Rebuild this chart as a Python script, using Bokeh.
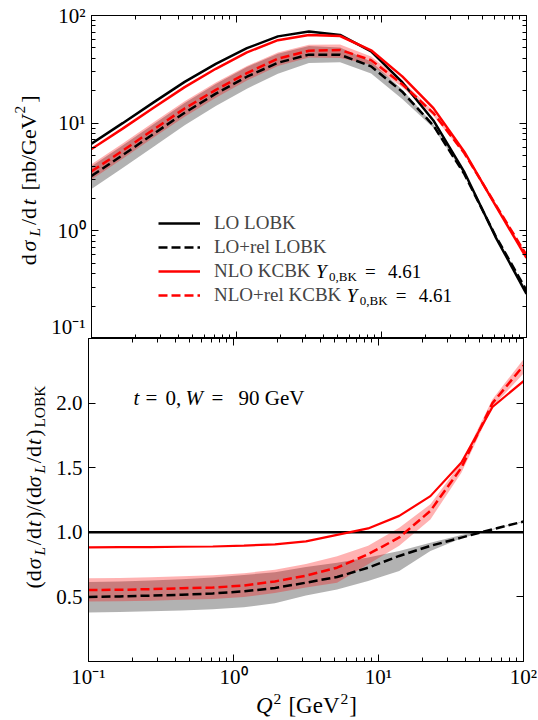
import math
from bokeh.plotting import figure
from bokeh.models import (FixedTicker, LogAxis, LinearAxis, Legend, LegendItem, Label,
                          Range1d, ColumnDataSource, CustomJSTickFormatter)
from bokeh.layouts import column, row
from bokeh.embed import file_html
from bokeh.resources import INLINE

# ---------------- data ----------------
Q2 = [0.1, 0.164, 0.268, 0.439, 0.72, 1.18, 1.93, 3.16, 5.18, 8.48, 13.9, 22.8, 37.3, 61.1, 100.0]

# top panel: dsigma_L/dt [nb/GeV^2]
lo_lobk = [6.45, 10.0, 15.6, 24.2, 35.6, 49.7, 64.0, 71.0, 66.0, 46.4, 24.0, 10.6, 3.5, 0.88, 0.26]
lorel_lobk = [3.23, 5.04, 7.96, 12.5, 18.8, 27.0, 36.4, 43.3, 43.2, 33.7, 19.6, 9.5, 3.36, 0.90, 0.28]
lorel_low = [2.45, 3.83, 6.05, 9.56, 14.4, 20.9, 28.8, 36.2, 36.8, 28.9, 16.8, 9.07, 3.34, 0.895, 0.279]
lorel_high = [3.97, 6.2, 9.78, 15.4, 23.1, 33.3, 44.2, 52.0, 50.5, 37.3, 20.5, 9.75, 3.43, 0.902, 0.283]
nlo_kcbk = [5.75, 8.9, 13.9, 21.6, 32.0, 45.5, 59.0, 66.0, 64.5, 47.5, 27.2, 13.8, 5.4, 1.72, 0.56]
nlorel_kcbk = [3.57, 5.55, 8.74, 13.7, 20.4, 29.2, 39.7, 47.1, 47.9, 38.5, 23.0, 12.4, 5.25, 1.76, 0.595]
nlorel_low = [3.0, 4.67, 7.35, 11.5, 17.2, 24.9, 33.9, 40.7, 40.3, 34.9, 21.5, 11.7, 5.11, 1.73, 0.58]
nlorel_high = [4.16, 6.47, 10.2, 16.0, 23.8, 33.9, 45.4, 53.6, 53.8, 41.5, 24.9, 12.9, 5.39, 1.79, 0.61]

# bottom panel: ratio to LO LOBK
r_lo = [1.0, 1.0, 1.0, 1.0, 1.0, 1.0, 1.0, 1.0, 1.0, 1.0, 1.0, 1.0, 1.0, 1.0, 1.0]
r_lorel = [0.50, 0.504, 0.51, 0.517, 0.527, 0.543, 0.569, 0.61, 0.654, 0.726, 0.817, 0.895, 0.959, 1.023, 1.083]
r_lorel_low = [0.38, 0.383, 0.388, 0.395, 0.405, 0.42, 0.45, 0.51, 0.558, 0.623, 0.70, 0.856, 0.953, 1.02, 1.08]
r_lorel_high = [0.615, 0.62, 0.627, 0.637, 0.65, 0.67, 0.69, 0.732, 0.765, 0.804, 0.856, 0.92, 0.98, 1.025, 1.085]
r_nlo = [0.884, 0.885, 0.886, 0.888, 0.89, 0.897, 0.907, 0.93, 0.98, 1.03, 1.127, 1.28, 1.54, 1.97, 2.17]
r_nlorel = [0.553, 0.555, 0.56, 0.567, 0.572, 0.588, 0.62, 0.664, 0.726, 0.83, 0.96, 1.166, 1.50, 2.0, 2.29]
r_nlorel_low = [0.465, 0.467, 0.471, 0.477, 0.483, 0.50, 0.53, 0.573, 0.61, 0.752, 0.895, 1.10, 1.46, 1.97, 2.23]
r_nlorel_high = [0.645, 0.647, 0.652, 0.66, 0.668, 0.683, 0.71, 0.755, 0.815, 0.895, 1.036, 1.217, 1.54, 2.03, 2.34]

x_major = [0.1, 1, 10, 100]
x_minor = [0.2, 0.3, 0.4, 0.5, 0.6, 0.7, 0.8, 0.9, 2, 3, 4, 5, 6, 7, 8, 9,
           20, 30, 40, 50, 60, 70, 80, 90]
y_top_major = [0.1, 1, 10, 100]
y_top_minor = x_minor
y_bot_major = [0.5, 1.0, 1.5, 2.0]

legend_labels = ["LO LOBK", "LO+rel LOBK", "NLO KCBK", "NLO+rel KCBK"]

# ---------------- geometry / styling ----------------
FONT = "Liberation Serif"
TICK_FS = 21
LEG_FS = 19
LAB_FS = 22
LW = 2.5
DASH = "9 4"

SIDE_W = 48                  # narrow figures holding the rotated y labels
FRAME_L, FRAME_R = 88, 523   # canvas x of the frames
TOP_T, MID, BOT_B = 15, 338, 661
TOTAL_W, TOTAL_H = 538, 720
XTICK_PANEL = 28             # room below the lower frame for tick labels
STRIP_Y0 = BOT_B + XTICK_PANEL

FW, FH = FRAME_R - FRAME_L, MID - TOP_T

log_fmt = CustomJSTickFormatter(code="""
const e = Math.round(Math.log10(tick));
const m = {"-1": "10\u207b\u00b9", "0": "10\u2070", "1": "10\u00b9", "2": "10\u00b2"};
return m[String(e)] || "";
""")
lin_fmt = CustomJSTickFormatter(code="return tick.toFixed(1);")
blank_fmt = CustomJSTickFormatter(code="return '';")


def style_axis(ax, labels=True):
    ax.major_tick_in = 7
    ax.major_tick_out = 0
    ax.minor_tick_in = 4
    ax.minor_tick_out = 0
    ax.major_tick_line_color = "black"
    ax.minor_tick_line_color = "black"
    ax.major_tick_line_width = 1
    ax.minor_tick_line_width = 1
    ax.axis_line_color = "black"
    ax.axis_line_width = 1
    ax.major_label_text_font = FONT
    ax.major_label_text_color = "black"
    ax.major_label_text_font_size = f"{TICK_FS}px"
    if not labels:
        ax.formatter = blank_fmt
        ax.major_label_standoff = 0


def main_fig(y_type, y_range, b_top, b_bottom):
    p = figure(frame_width=FW, frame_height=FH, x_axis_type="log", y_axis_type=y_type,
               x_range=Range1d(0.1, 100), y_range=y_range,
               output_backend="svg", toolbar_location=None,
               min_border_left=FRAME_L - SIDE_W, min_border_right=TOTAL_W - FRAME_R,
               min_border_top=b_top, min_border_bottom=b_bottom)
    p.xgrid.visible = False
    p.ygrid.visible = False
    p.outline_line_color = "black"
    p.outline_line_width = 1
    p.background_fill_color = "white"
    p.border_fill_color = "white"
    return p


def text_fig(x0, x1, y0, y1):
    """Axis-free figure whose data coordinates equal canvas pixels."""
    p = figure(width=x1 - x0, height=y1 - y0, x_range=Range1d(x0, x1), y_range=Range1d(y1, y0),
               output_backend="svg", toolbar_location=None, min_border=0,
               x_axis_location=None, y_axis_location=None)
    p.outline_line_color = None
    p.grid.visible = False
    p.background_fill_color = "white"
    p.border_fill_color = "white"
    return p


# ---------------- top panel ----------------
top = main_fig("log", Range1d(0.1, 100), TOP_T, 0)
src_t = ColumnDataSource(dict(x=Q2, lo=lo_lobk, lorel=lorel_lobk, lorel_lo=lorel_low, lorel_hi=lorel_high,
                              nlo=nlo_kcbk, nlorel=nlorel_kcbk, nlorel_lo=nlorel_low, nlorel_hi=nlorel_high))
top.varea(x="x", y1="lorel_lo", y2="lorel_hi", source=src_t, fill_color="black", fill_alpha=0.3)
top.varea(x="x", y1="nlorel_lo", y2="nlorel_hi", source=src_t, fill_color="red", fill_alpha=0.3)
t_lo = top.line("x", "lo", source=src_t, line_color="black", line_width=LW)
t_lorel = top.line("x", "lorel", source=src_t, line_color="black", line_width=LW, line_dash=DASH)
t_nlo = top.line("x", "nlo", source=src_t, line_color="red", line_width=LW)
t_nlorel = top.line("x", "nlorel", source=src_t, line_color="red", line_width=LW, line_dash=DASH)

xtick_t = FixedTicker(ticks=x_major, minor_ticks=x_minor)
ytick_t = FixedTicker(ticks=y_top_major, minor_ticks=y_top_minor)
top.xaxis.ticker = xtick_t
top.yaxis.ticker = ytick_t
top.yaxis.formatter = log_fmt
style_axis(top.xaxis[0], labels=False)
style_axis(top.yaxis[0], labels=True)
top.yaxis.major_label_standoff = 6
ax_a = LogAxis(ticker=xtick_t)
style_axis(ax_a, labels=False)
top.add_layout(ax_a, "above")
ax_r = LogAxis(ticker=ytick_t)
style_axis(ax_r, labels=False)
top.add_layout(ax_r, "right")

legend = Legend(items=[LegendItem(label=legend_labels[0], renderers=[t_lo]),
                       LegendItem(label=legend_labels[1], renderers=[t_lorel]),
                       LegendItem(label=legend_labels[2], renderers=[t_nlo]),
                       LegendItem(label=legend_labels[3], renderers=[t_nlorel])],
                location=(67, 32), glyph_width=42, glyph_height=22, label_height=22,
                spacing=2, padding=0, margin=0, label_standoff=14,
                label_text_font=FONT, label_text_font_size=f"{LEG_FS}px",
                border_line_alpha=0, background_fill_alpha=0)
top.add_layout(legend)

# ---------------- bottom panel ----------------
bot = main_fig("linear", Range1d(0.0, 2.5), 0, XTICK_PANEL)
src_b = ColumnDataSource(dict(x=Q2, lo=r_lo, lorel=r_lorel, lorel_lo=r_lorel_low, lorel_hi=r_lorel_high,
                              nlo=r_nlo, nlorel=r_nlorel, nlorel_lo=r_nlorel_low, nlorel_hi=r_nlorel_high))
bot.varea(x="x", y1="lorel_lo", y2="lorel_hi", source=src_b, fill_color="black", fill_alpha=0.3)
bot.varea(x="x", y1="nlorel_lo", y2="nlorel_hi", source=src_b, fill_color="red", fill_alpha=0.3)
bot.line("x", "lo", source=src_b, line_color="black", line_width=LW)
bot.line("x", "lorel", source=src_b, line_color="black", line_width=LW, line_dash=DASH)
bot.line("x", "nlo", source=src_b, line_color="red", line_width=2.2)
bot.line("x", "nlorel", source=src_b, line_color="red", line_width=LW, line_dash=DASH)

xtick_b = FixedTicker(ticks=x_major, minor_ticks=x_minor)
ytick_b = FixedTicker(ticks=y_bot_major, minor_ticks=[])
bot.xaxis.ticker = xtick_b
bot.xaxis.formatter = log_fmt
bot.yaxis.ticker = ytick_b
bot.yaxis.formatter = lin_fmt
style_axis(bot.xaxis[0], labels=True)
style_axis(bot.yaxis[0], labels=True)
bot.xaxis.major_label_standoff = 3
bot.yaxis.major_label_standoff = 6
ax_a2 = LogAxis(ticker=xtick_b)
style_axis(ax_a2, labels=False)
bot.add_layout(ax_a2, "above")
ax_r2 = LinearAxis(ticker=ytick_b)
style_axis(ax_r2, labels=False)
bot.add_layout(ax_r2, "right")


# ---------------- text helpers ----------------
def px2x(px):
    return 10 ** (-1 + (px - FRAME_L) / (FW / 3.0))


def py2y_top(py):
    return 10 ** (2 - (py - TOP_T) / (FH / 3.0))


def py2y_bot(py):
    return 2.5 - (py - MID) / ((BOT_B - MID) / 2.5)


REG = {' ': .25, '(': .333, ')': .333, '/': .278, '[': .333, ']': .333, 'd': .5, 'n': .5, 'b': .5,
       'G': .722, 'e': .444, 'V': .722, 'L': .611, 'O': .722, 'B': .667, 'K': .722, '=': .564,
       ',': .25, '.': .25, 'σ': .55, 't': .278, 'N': .722, 'C': .667, '+': .564, 'r': .333, 'l': .278}
ITA = {'t': .278, 'σ': .55, 'L': .556, 'Y': .556, 'W': .833, 'Q': .722}


def wid(text, size, italic):
    tab = ITA if italic else REG
    return sum(tab.get(c, .5) for c in text) * size


def add_label(p, x, y, text, size, italic=False, angle=0.0):
    p.add_layout(Label(x=x, y=y, text=text, angle=angle,
                       text_font=FONT, text_font_size=f"{size:.1f}px",
                       text_font_style="italic" if italic else "normal",
                       text_align="left", text_baseline="middle", text_color="black"))


def rotated_pieces(p, plist, center_y, base_x, size, gap):
    """Vertical label reading upwards; plist items: (text, italic, kind, extra gap before)."""
    sizes = [size * 0.7 if k else size for (_, _, k, _) in plist]
    widths = [wid(t, s, it) + g + gap for (t, it, _, g), s in zip(plist, sizes)]
    pos = center_y + sum(widths) / 2
    for (t, it, k, g), s, w in zip(plist, sizes, widths):
        pos -= g
        shift = 0.28 * size if k == 'sub' else (-0.38 * size if k == 'sup' else 0)
        add_label(p, base_x + shift, pos, t, s, it, math.pi / 2)
        pos -= (w - g)


# rotated y labels in narrow side figures
ytop_side = text_fig(0, SIDE_W, 0, MID)
ybot_side = text_fig(0, SIDE_W, MID, STRIP_Y0)

ylab_top = [("d", False, '', 0), ("σ", True, '', 0), ("L", True, 'sub', 0), ("/d", False, '', 0),
            ("t", True, '', 0), ("[nb/GeV", False, '', 6), ("2", False, 'sup', 0), ("]", False, '', 0)]
rotated_pieces(ytop_side, ylab_top, 171, 28, LAB_FS, 3.5)

ylab_bot = [("(d", False, '', 0), ("σ", True, '', 0), ("L", True, 'sub', 0), ("/d", False, '', 0),
            ("t", True, '', 0), (")/(d", False, '', 0), ("σ", True, '', 0), ("L", True, 'sub', 0),
            ("/d", False, '', 0), ("t", True, '', 0), (")", False, '', 0), ("LOBK", False, 'sub', 0)]
rotated_pieces(ybot_side, ylab_bot, 501, 33, LAB_FS, 2.8)

# x label strip under the lower panel
xstrip = text_fig(0, TOTAL_W, STRIP_Y0, TOTAL_H)
xlab = [("Q", True, '', 0), ("2", False, 'sup', 1), ("[GeV", False, '', 7), ("2", False, 'sup', 1),
        ("]", False, '', 1)]
XS = 23
xs = [XS * 0.68 if k else XS for (_, _, k, _) in xlab]
xw = [wid(t, s, it) + g for (t, it, _, g), s in zip(xlab, xs)]
pos = 306 - sum(xw) / 2
for (t, it, k, g), s, w in zip(xlab, xs, xw):
    pos += g
    add_label(xstrip, pos, 703 - (7 if k == 'sup' else 0), t, s, it)
    pos += w - g

# annotation t = 0, W = 90 GeV
ann = [("t", True, 133), ("=", False, 145), ("0,", False, 165), ("W", True, 185), ("=", False, 211),
       ("90 GeV", False, 238)]
for t, it, px in ann:
    add_label(bot, px2x(px), py2y_bot(397), t, 21, it)

# legend suffixes "Y_{0,BK} = 4.61"
for row_py, label in ((271, legend_labels[2]), (295, legend_labels[3])):
    x0 = 211 + wid(label, LEG_FS, False) + 5
    toks = [("Y", True, x0, 0, LEG_FS),
            ("0,BK", False, x0 + 13, 5, 13),
            ("=", False, x0 + 49, 0, LEG_FS),
            ("4.61", False, x0 + 72, 0, LEG_FS)]
    for t, it, px, dy, fs in toks:
        add_label(top, px2x(px), py2y_top(row_py + dy), t, fs, it)

layout = column(row(ytop_side, top, spacing=0),
                row(ybot_side, bot, spacing=0),
                xstrip, spacing=0)
open("out.html", "w").write(file_html(layout, INLINE))
